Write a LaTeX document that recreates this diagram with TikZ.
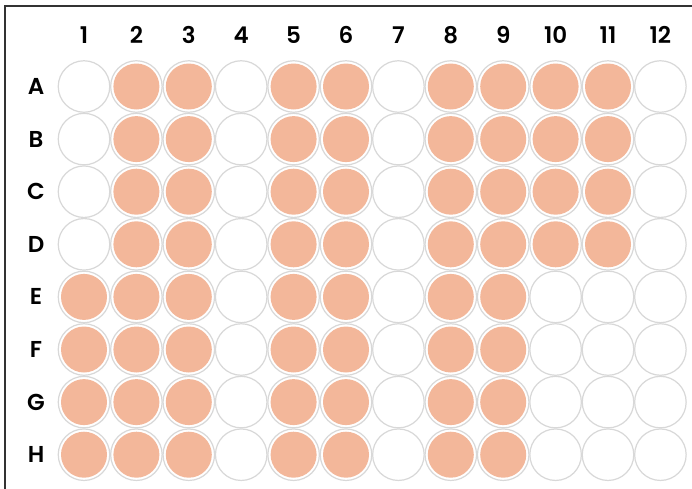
\documentclass[tikz,border=0pt]{standalone}
\usepackage{fontspec}
\setmainfont{Poppins}[UprightFont=* SemiBold]
\usetikzlibrary{positioning}
\definecolor{dye}{HTML}{F3B79A}
\definecolor{rim}{HTML}{D8D8D8}
\definecolor{edge}{HTML}{333333}
\tikzset{
  every picture/.style={font=\fontsize{23}{23}\selectfont},
  well/.style={circle,draw=rim,line width=1.2pt,fill=white,minimum size=51.5pt,inner sep=0pt},
  filled/.style={fill=dye},
  label/.style={inner sep=0pt,text=black},
  frame/.style={draw=edge,line width=2pt},
}
\begin{document}
\begin{tikzpicture}[x=1pt,y=-1pt]
  \clip (0,0) rectangle (692,488);
  \fill[white] (0,0) rectangle (692,488);
  \draw[frame] (5,6) rectangle (740,540);
  % column and row labels
  \foreach \c in {1,...,12}
    \node[label] (col\c) at ({84+(\c-1)*52.4},35) {\c};
  \foreach \r [count=\i] in {A,B,C,D,E,F,G,H}
    \node[label] (row\r) at (36,{86.5+(\i-1)*52.6}) {\r};
  % wells
  \foreach \r [count=\i] in {A,B,C,D,E,F,G,H}
    \foreach \c in {1,...,12}
      \node[well] (\r\c) at ({84+(\c-1)*52.4},{86.5+(\i-1)*52.6}) {};
  \foreach \r in {A,B,C,D}
    \foreach \c in {2,3,5,6,8,9,10,11}
      \fill[filled] (\r\c.center) circle (23pt);
  \foreach \r in {E,F,G,H}
    \foreach \c in {1,2,3,5,6,8,9}
      \fill[filled] (\r\c.center) circle (23pt);
\end{tikzpicture}
\end{document}
